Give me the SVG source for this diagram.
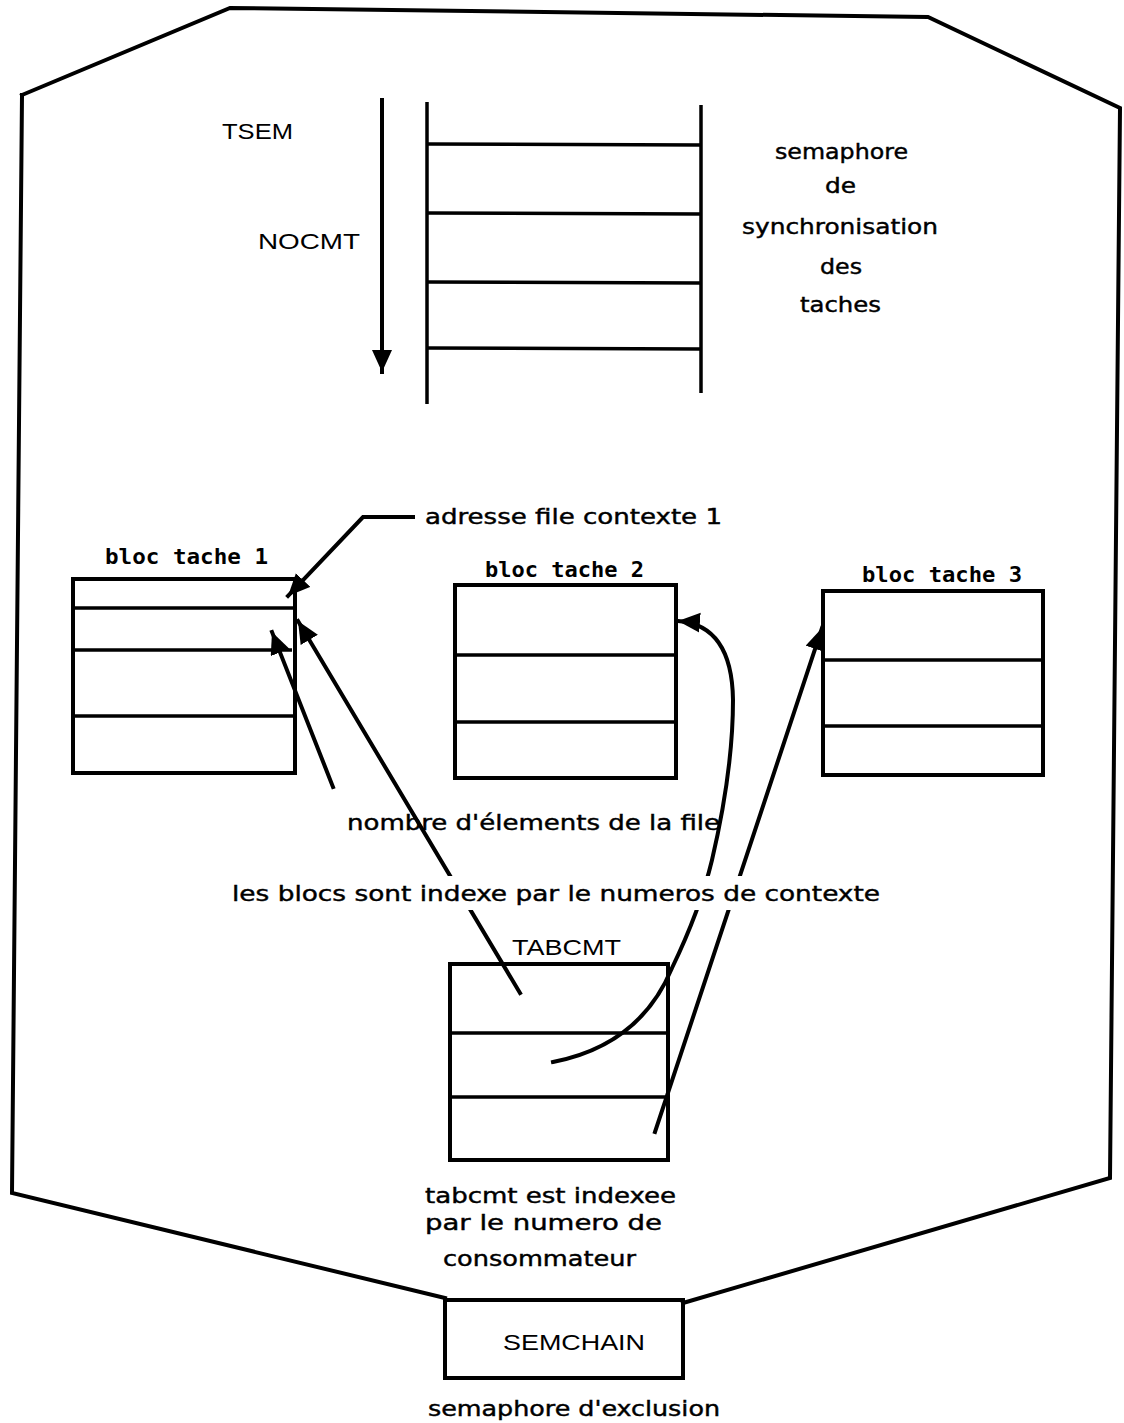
<svg xmlns="http://www.w3.org/2000/svg" width="1124" height="1423" viewBox="0 0 1124 1423">
<style>
.ln{fill:none;stroke:#000;stroke-width:4;stroke-linecap:square;stroke-linejoin:miter}
.th{fill:none;stroke:#000;stroke-width:3.5}
.box{fill:none;stroke:#000;stroke-width:4}
.sans{font-family:"Liberation Sans",Arial,sans-serif;font-size:22px;fill:#000}
.cond{font-family:"DejaVu Sans Condensed","DejaVu Sans",sans-serif;font-stretch:condensed;font-size:22px;fill:#000;stroke:#000;stroke-width:0.4}
.monob{font-family:"DejaVu Sans Mono","Liberation Mono",monospace;font-size:21px;font-weight:bold;fill:#000}
</style>
<defs>
<marker id="ah" markerUnits="userSpaceOnUse" markerWidth="26" markerHeight="22" refX="22" refY="10" orient="auto">
<path d="M0,0 L22,10 L0,20 Z" fill="#000"/>
</marker>
</defs>
<rect width="1124" height="1423" fill="#fff"/>

<g id="enclosure">
<path class="ln" stroke-width="5" d="M22,95 L230,8 L928,17 L1120,108 L1110,1178 L683,1303 M445,1298 L12,1193 L22,95"/>
</g>

<g id="tsem">
<text class="sans" x="222" y="139" textLength="71" lengthAdjust="spacingAndGlyphs">TSEM</text>
<text class="sans" x="258" y="249" textLength="102" lengthAdjust="spacingAndGlyphs">NOCMT</text>
<line class="th" x1="427" y1="102" x2="427" y2="404"/>
<line class="th" x1="701" y1="105" x2="701" y2="393"/>
<line class="th" x1="427" y1="144" x2="701" y2="145"/>
<line class="th" x1="427" y1="213" x2="701" y2="214"/>
<line class="th" x1="427" y1="282" x2="701" y2="283"/>
<line class="th" x1="427" y1="348" x2="701" y2="349"/>
<text class="cond" x="775" y="159" textLength="133" lengthAdjust="spacingAndGlyphs">semaphore</text>
<text class="cond" x="825" y="193" textLength="31" lengthAdjust="spacingAndGlyphs">de</text>
<text class="cond" x="742" y="234" textLength="196" lengthAdjust="spacingAndGlyphs">synchronisation</text>
<text class="cond" x="820" y="274" textLength="42" lengthAdjust="spacingAndGlyphs">des</text>
<text class="cond" x="800" y="312" textLength="81" lengthAdjust="spacingAndGlyphs">taches</text>
</g>

<g id="bloc1">
<text class="monob" x="105" y="564" textLength="163" lengthAdjust="spacingAndGlyphs">bloc tache 1</text>
<rect class="box" x="73" y="579" width="222" height="194"/>
<line class="th" x1="73" y1="608" x2="295" y2="608"/>
<line class="th" x1="73" y1="650" x2="292" y2="650"/>
<line class="th" x1="73" y1="716" x2="295" y2="716"/>
</g>

<g id="bloc2">
<text class="monob" x="485" y="577" textLength="159" lengthAdjust="spacingAndGlyphs">bloc tache 2</text>
<rect class="box" x="455" y="585" width="221" height="193"/>
<line class="th" x1="455" y1="655" x2="676" y2="655"/>
<line class="th" x1="455" y1="722" x2="676" y2="722"/>
</g>

<g id="bloc3">
<text class="monob" x="862" y="582" textLength="160" lengthAdjust="spacingAndGlyphs">bloc tache 3</text>
<rect class="box" x="823" y="591" width="220" height="184"/>
<line class="th" x1="823" y1="660" x2="1043" y2="660"/>
<line class="th" x1="823" y1="726" x2="1043" y2="726"/>
</g>

<g id="tabcmt">
<text class="sans" x="512" y="955" textLength="109" lengthAdjust="spacingAndGlyphs">TABCMT</text>
<rect class="box" x="450" y="964" width="218" height="196"/>
<line class="th" x1="450" y1="1033" x2="668" y2="1033"/>
<line class="th" x1="450" y1="1097" x2="668" y2="1097"/>
<text class="cond" x="425" y="1203" textLength="251" lengthAdjust="spacingAndGlyphs">tabcmt est indexee</text>
<text class="cond" x="425" y="1230" textLength="237" lengthAdjust="spacingAndGlyphs">par le numero de</text>
<text class="cond" x="443" y="1266" textLength="193" lengthAdjust="spacingAndGlyphs">consommateur</text>
</g>

<g id="semchain">
<rect class="box" x="445" y="1300" width="238" height="78"/>
<text class="sans" x="503" y="1350" textLength="142" lengthAdjust="spacingAndGlyphs">SEMCHAIN</text>
<text class="cond" x="428" y="1416" textLength="292" lengthAdjust="spacingAndGlyphs">semaphore d'exclusion</text>
</g>

<g id="connectors">
<line class="ln" x1="382" y1="100" x2="382" y2="372" marker-end="url(#ah)"/>
<path class="ln" d="M413,517 L363,517 L288,596" marker-end="url(#ah)"/>
<line class="ln" x1="333" y1="787" x2="272" y2="632" marker-end="url(#ah)"/>
<line class="ln" x1="520" y1="993" x2="298" y2="621" marker-end="url(#ah)"/>
<path class="ln" d="M553,1062 Q640,1045 672,968 Q700,910 712,860 Q733,770 733,700 Q732,625 678,621" marker-end="url(#ah)"/>
<line class="ln" x1="655" y1="1132" x2="822" y2="628" marker-end="url(#ah)"/>
</g>

<g id="labels">
<text class="cond" x="425" y="524" textLength="297" lengthAdjust="spacingAndGlyphs">adresse file contexte 1</text>
<text class="cond" x="347" y="830" textLength="373" lengthAdjust="spacingAndGlyphs">nombre d'élements de la file</text>
<rect x="300" y="876" width="560" height="34" fill="#fff"/>
<text class="cond" x="232" y="901" textLength="648" lengthAdjust="spacingAndGlyphs">les blocs sont indexe par le numeros de contexte</text>
</g>
</svg>
